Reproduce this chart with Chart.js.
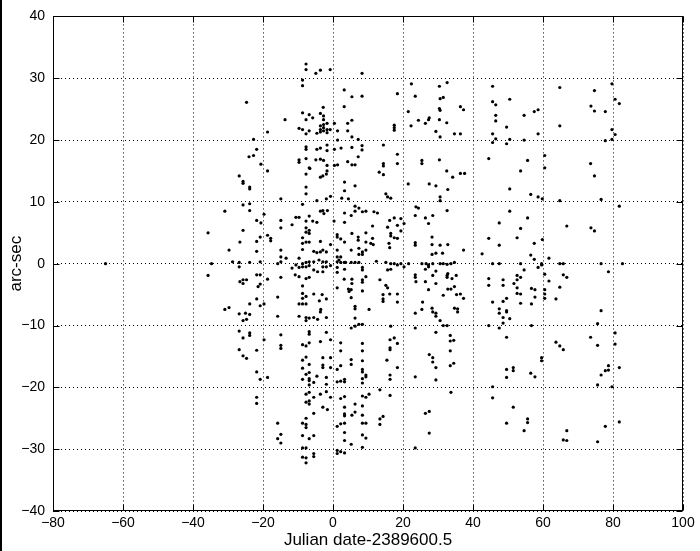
<!DOCTYPE html>
<html>
<head>
<meta charset="utf-8">
<script src="https://cdn.jsdelivr.net/npm/chart.js@4"></script>
<style>
html,body{margin:0;padding:0;background:#fff;}
#c{display:block;}
</style>
</head>
<body>
<canvas id="c" width="700" height="551"></canvas>
<script>
// ---- Data (Julian date offset, arc-sec) ----
const xTitle = "Julian date-2389600.5";
const yTitle = "arc-sec";
const xTicks = [-80, -60, -40, -20, 0, 20, 40, 60, 80, 100];
const yTicks = [-40, -30, -20, -10, 0, 10, 20, 30, 40];

const ptsTopCentre = [[-7.7,32.3],[-7.7,31.4],[-4.9,30.8],[-3.6,31.3],[-0.8,31.4],[8.3,30.8],[-8.7,29.7],[-8.7,28.8],[3.2,28.1],[5.4,27.0],[8.3,27.1],[-24.7,26.1],[3.2,25.4],[-2.8,25.3],[-13.7,23.3],[-8.7,24.4],[-6.8,24.1],[-5.8,23.6],[-7.7,23.3],[-3.6,24.3],[-2.7,23.9],[-2.7,23.3],[0.4,22.7],[5.4,23.2],[4.2,22.7],[-9.7,21.9],[-8.7,21.7],[-7.7,21.0],[-6.8,21.5],[-4.6,21.1],[-3.6,22.3],[-3.6,21.7],[-3.6,21.3],[-2.7,22.5],[-2.7,22.0],[-2.7,21.5],[-1.7,22.7],[-1.7,21.7],[-1.7,21.2],[-0.8,21.7],[1.3,21.5],[4.2,21.5],[5.4,20.5],[7.2,20.1],[-22.7,20.1],[-18.7,21.3],[-21.8,18.5],[-24.0,17.3],[-22.7,17.5],[-20.6,16.1],[-18.7,15.0],[-7.7,18.9],[-7.7,18.5],[-9.7,16.8],[-9.7,16.4],[-7.7,17.0],[-6.8,15.5],[-4.6,18.5],[-3.6,18.7],[-4.9,16.8],[-3.6,16.9],[-2.7,16.7],[-1.7,19.2],[-1.7,18.3],[-1.7,15.9],[-1.7,15.0],[0.4,18.5],[1.3,20.0],[0.4,15.9],[1.3,16.0],[2.3,18.7],[5.4,18.8],[8.3,19.1],[8.3,18.4],[7.2,17.3],[4.2,16.5],[5.4,16.0],[6.3,16.0]];

const ptsLeftMiddle = [[-65.0,0.0],[-6.6,15.4],[-7.7,14.5],[-3.6,14.0],[-26.8,14.2],[-25.7,13.3],[-25.7,13.0],[-23.8,12.4],[-23.8,12.1],[-7.7,12.4],[-7.7,11.3],[-14.9,10.5],[-4.6,10.2],[-25.7,9.5],[-23.8,9.7],[-8.7,9.6],[-30.9,8.5],[-23.8,8.6],[-19.7,8.0],[-10.6,7.5],[-9.7,7.5],[-6.8,7.7],[-3.6,8.5],[-21.8,7.0],[-20.6,6.6],[-14.9,7.0],[-11.7,6.3],[-7.7,6.9],[-5.8,6.9],[-4.6,6.7],[-14.9,5.8],[-7.7,5.8],[-7.7,5.1],[-6.8,5.4],[-6.8,4.9],[-25.7,5.4],[-35.7,5.0],[-18.7,4.6],[-17.8,4.1],[-17.8,3.7],[-20.8,4.3],[-21.8,3.6],[-8.7,4.2],[-8.7,3.3],[-7.7,3.5],[-6.8,3.5],[-3.6,3.6],[-26.6,3.5],[-29.7,2.2],[-21.8,2.0],[-14.9,2.2],[-8.7,2.3],[-5.5,2.0],[-4.6,1.8],[-3.6,1.9],[-14.9,1.1],[-13.4,0.9],[-9.7,0.9],[-34.7,0.0],[-28.7,0.3],[-26.8,0.2],[-23.8,0.2],[-20.8,0.3],[-15.8,0.0],[-14.9,0.3],[-11.7,-0.7],[-10.6,-0.2],[-9.7,-0.6],[-8.7,0.0],[-8.7,-0.5],[-7.7,0.2],[-7.7,-0.5],[-6.8,0.3],[-6.8,-0.3],[-5.5,0.3],[-5.5,-1.0],[-4.4,-1.3],[-35.7,-1.9],[-26.8,-0.5],[-25.7,-2.6],[-25.7,-3.2],[-26.6,-2.9],[-24.7,-2.6],[-21.8,-1.8],[-20.8,-1.8],[-21.4,-3.7],[-20.8,-3.3],[-18.7,-2.5],[-14.9,-2.2],[-10.8,-1.8],[-9.7,-2.1],[-7.7,-2.4],[-6.8,-2.2],[-8.7,-3.6],[-15.8,-5.4],[-21.8,-5.7],[-20.8,-6.8],[-19.7,-6.5],[-30.9,-7.4],[-29.7,-7.1],[-23.8,-6.5],[-8.7,-4.8],[-8.7,-5.6],[-7.7,-5.3],[-5.5,-4.9],[-9.7,-6.5],[-8.7,-6.5],[-7.7,-6.5],[-3.9,-6.0],[-26.8,-8.1],[-25.0,-8.0],[-23.8,-8.2],[-25.7,-9.2],[-24.7,-9.0],[-15.8,-8.5],[-9.7,-8.5],[-7.7,-8.7],[-6.8,-8.8],[-5.5,-8.7],[-4.4,-9.0],[-7.7,-9.2],[-3.6,-7.8],[-26.8,-10.9],[-23.8,-11.2],[-23.8,-11.6],[-19.7,-12.3],[-14.9,-11.5],[-6.8,-11.0],[-6.8,-11.4]];

const ptsLeftLower = [[-25.7,-12.0],[-14.9,-13.2],[-14.9,-13.7],[-8.7,-13.1],[-7.7,-13.3],[-6.8,-12.8],[-3.6,-12.6],[-26.8,-13.9],[-25.7,-14.9],[-24.7,-15.3],[-21.8,-14.0],[-8.7,-15.6],[-7.7,-15.1],[-6.8,-16.3],[-8.7,-16.9],[-21.8,-17.5],[-20.8,-18.7],[-18.7,-18.4],[-6.8,-17.6],[-7.7,-17.9],[-4.6,-18.2],[-6.8,-18.6],[-6.8,-18.9],[-8.7,-18.7],[-5.5,-19.2],[-6.8,-19.6],[-7.7,-21.1],[-6.8,-20.8],[-3.6,-21.1],[-6.8,-22.2],[-7.7,-22.4],[-6.8,-22.7],[-5.5,-21.6],[-21.8,-21.6],[-21.8,-22.6],[-5.5,-24.2],[-7.7,-25.0],[-15.8,-25.8],[-8.7,-25.8],[-7.7,-26.0],[-7.7,-26.5],[-14.9,-27.6],[-15.8,-28.3],[-14.9,-29.0],[-8.7,-27.8],[-6.8,-28.3],[-5.5,-27.8],[-8.7,-29.8],[-7.7,-29.8],[-8.7,-31.3],[-7.7,-31.4],[-5.5,-30.7],[-5.5,-31.2],[-7.7,-32.2]];

const ptsCentreUpper = [[14.4,19.2],[18.4,27.5],[17.5,22.4],[17.5,22.0],[17.5,21.6],[18.4,17.7],[18.4,16.2],[14.4,16.2],[14.4,15.8],[13.2,14.8],[14.4,14.4],[22.4,29.1],[23.5,27.1],[30.4,28.7],[32.6,29.3],[30.6,26.7],[31.5,26.9],[30.4,25.1],[30.6,24.8],[21.5,24.6],[24.4,23.2],[27.5,23.6],[27.3,23.3],[26.4,22.7],[22.3,22.3],[30.4,23.3],[32.5,22.8],[29.4,21.4],[30.6,20.5],[34.7,21.0],[25.4,16.7],[25.4,16.2],[30.4,16.8],[32.5,15.0],[34.2,14.0],[21.5,12.9],[27.5,12.9],[29.4,12.6],[-1.9,14.5],[-2.9,14.2],[3.3,13.2],[6.3,12.6]];

const ptsCentreMiddle = [[-0.7,10.9],[-1.9,10.5],[2.5,10.6],[4.4,10.5],[3.3,11.8],[15.1,11.3],[15.6,10.8],[16.5,10.6],[-2.9,8.6],[-2.6,8.1],[-1.6,8.6],[0.3,6.9],[3.3,8.2],[5.2,7.8],[6.3,8.5],[6.3,9.3],[7.4,9.0],[8.4,8.4],[9.4,8.5],[11.7,8.4],[12.7,8.2],[3.3,6.7],[16.2,7.0],[17.5,7.4],[19.4,7.3],[20.3,6.5],[11.3,6.1],[15.6,5.9],[18.4,6.2],[9.4,5.0],[5.4,4.9],[16.5,4.9],[16.5,4.5],[17.5,4.2],[18.4,4.1],[19.4,5.3],[1.2,4.7],[1.2,4.3],[2.2,4.0],[3.3,3.5],[7.2,4.3],[7.2,3.8],[9.4,3.5],[11.3,4.1],[11.5,3.1],[-0.7,3.1],[-1.9,1.9],[-2.9,2.2],[1.2,2.2],[5.2,2.2],[7.4,2.5],[8.4,1.9],[8.4,1.5],[9.4,2.2],[7.4,1.5],[16.0,3.3],[16.2,2.6],[10.8,3.3],[1.2,1.1],[2.2,1.1],[1.2,0.3],[2.2,0.2],[1.7,0.6],[3.2,0.2],[3.6,0.2],[5.2,0.2],[6.3,0.2],[7.4,0.2],[12.4,0.4],[15.1,0.2],[16.5,0.0],[17.5,0.0],[18.4,-0.2],[19.4,0.0],[20.3,-0.5],[21.6,0.0],[-2.9,0.3],[-1.9,0.3],[-2.9,-0.5],[-1.9,-0.5],[-4.0,0.6],[-0.7,-0.3],[1.2,-0.6],[1.2,-1.4],[3.3,-0.9],[8.4,-0.6],[8.4,-1.0],[15.6,-1.0],[16.5,-0.9],[-2.9,-1.3],[3.2,-2.5],[5.4,-2.5],[5.4,-3.2],[8.4,-2.6],[8.4,-3.0],[9.4,-2.1],[13.4,-2.6],[15.1,-3.5],[15.6,-3.9],[1.2,-3.9],[4.4,-4.1],[5.2,-4.2],[4.6,-4.5],[8.4,-4.4],[16.2,-4.9],[18.4,-4.9],[14.3,-5.0],[14.3,-5.7],[14.3,-6.1],[18.4,-6.2],[5.2,-5.5],[-3.1,-5.0],[-1.9,-5.7],[6.3,-6.9],[6.3,-7.3],[10.3,-7.4],[-3.5,-7.4],[-1.9,-8.7],[6.3,-8.8],[5.2,-10.4],[6.3,-10.1],[7.4,-9.8],[8.4,-9.8],[16.5,-10.1]];

const ptsRightOfCentre = [[23.7,9.2],[24.4,9.0],[23.5,7.8],[26.4,7.4],[27.3,6.5],[28.5,7.8],[30.6,10.8],[30.6,10.2],[32.6,8.6],[32.8,12.0],[28.3,4.3],[28.3,3.1],[30.6,3.0],[32.8,3.1],[23.5,3.4],[23.5,3.0],[28.3,1.5],[29.4,1.7],[31.3,1.7],[25.4,0.0],[26.6,0.0],[28.5,0.0],[27.3,-0.2],[30.6,0.0],[31.5,0.0],[32.6,-0.1],[33.7,0.0],[34.7,0.2],[26.4,-0.9],[27.3,-0.5],[29.4,-1.2],[32.8,-1.6],[23.5,-1.8],[23.5,-2.2],[28.5,-1.9],[32.6,-1.9],[32.6,-2.2],[34.0,-2.4],[35.2,-1.9],[23.7,-2.9],[26.4,-2.9],[29.4,-3.2],[27.3,-4.2],[32.8,-4.1],[33.7,-4.1],[34.7,-3.7],[31.5,-5.1],[35.3,-5.0],[25.6,-6.2],[23.5,-8.0],[25.4,-7.4],[28.3,-7.2],[29.4,-8.0],[29.4,-8.5],[28.5,-7.8],[30.6,-9.2],[31.5,-10.0],[32.6,-10.0],[34.7,-7.2],[35.6,-7.3],[35.6,-7.8],[23.5,-10.4]];

const ptsCentreLower = [[-1.9,-11.1],[-0.7,-12.3],[2.2,-12.8],[2.2,-14.1],[8.4,-12.9],[8.4,-14.1],[5.2,-15.5],[5.2,-16.3],[8.4,-15.7],[-2.9,-15.2],[-0.7,-15.2],[-2.9,-16.4],[-2.9,-16.8],[-0.7,-16.8],[1.2,-17.1],[2.2,-16.5],[8.4,-17.1],[8.4,-17.5],[9.4,-18.0],[9.4,-18.3],[8.4,-18.6],[-1.9,-18.4],[-1.9,-19.5],[1.2,-19.1],[2.2,-19.0],[3.3,-18.7],[3.3,-19.1],[8.4,-19.3],[16.3,-18.7],[16.3,-18.0],[15.4,-15.6],[18.4,-16.8],[16.3,-12.3],[17.5,-12.0],[18.4,-12.9],[16.3,-13.6],[16.3,-13.9],[-1.9,-20.7],[-0.7,-21.6],[-2.9,-23.2],[-1.6,-23.6],[2.2,-21.8],[3.3,-21.5],[8.4,-21.4],[9.4,-21.6],[10.3,-21.1],[13.4,-20.4],[16.3,-21.3],[3.3,-23.2],[6.3,-22.7],[8.4,-23.0],[3.3,-24.3],[3.3,-24.6],[5.4,-24.5],[6.3,-24.0],[8.4,-24.5],[14.3,-24.7],[13.4,-25.1],[8.4,-25.8],[9.4,-25.8],[2.2,-25.9],[1.2,-26.3],[3.3,-25.8],[13.4,-26.0],[3.3,-27.3],[8.4,-27.7],[9.4,-28.2],[3.3,-28.6],[5.2,-29.2],[8.4,-29.7],[1.2,-30.2],[1.2,-30.7],[2.2,-30.4],[3.3,-30.6],[29.4,-11.1],[33.5,-11.6],[34.5,-12.4],[33.5,-12.5],[33.5,-14.1],[27.5,-14.7],[28.5,-15.2],[28.5,-15.9],[29.4,-16.8],[33.5,-16.5],[34.5,-16.1],[23.5,-18.3],[29.4,-18.8],[33.7,-20.8],[26.4,-24.2],[27.5,-23.9],[27.5,-27.4],[23.5,-29.8]];

const ptsRightUpper = [[36.4,25.4],[37.3,24.9],[36.4,21.0],[45.6,28.7],[45.6,26.2],[46.5,25.7],[50.5,26.6],[46.5,24.0],[46.5,23.1],[49.6,22.1],[45.6,21.0],[46.5,20.2],[45.6,19.6],[49.6,19.4],[50.5,20.1],[54.6,24.0],[54.6,20.0],[57.5,24.6],[58.6,24.9],[58.6,21.0],[64.8,28.5],[64.8,22.3],[74.7,28.0],[73.7,25.5],[74.7,24.7],[77.8,24.6],[79.7,29.1],[80.6,26.6],[81.8,25.9],[79.7,21.7],[80.6,20.9],[77.8,19.9],[79.7,20.1],[44.5,17.0],[36.4,14.6],[37.6,14.6],[55.6,16.7],[53.6,15.0],[60.5,17.5],[60.5,15.5],[50.5,12.1],[56.5,11.2],[58.6,10.8],[59.8,10.5],[73.6,16.2],[74.7,14.2],[76.6,10.4],[64.8,10.2],[81.8,9.3],[50.5,8.5],[47.5,6.6],[55.6,7.4],[53.6,5.7],[52.6,4.2],[44.5,4.1],[47.5,3.0],[57.5,3.3],[59.8,3.9],[37.3,2.2],[42.6,1.6],[56.5,1.4],[57.5,0.7],[61.7,0.9],[66.8,6.1],[73.7,5.8],[74.7,5.3]];

const ptsRightLower = [[45.6,0.0],[47.5,0.0],[53.6,0.0],[59.6,0.0],[59.6,-0.2],[64.8,0.0],[65.8,0.0],[76.6,0.0],[82.7,0.0],[54.6,-1.0],[58.6,-0.6],[78.7,-1.3],[44.5,-2.4],[44.5,-3.5],[48.6,-2.6],[48.6,-3.5],[52.6,-1.9],[53.6,-2.2],[52.6,-2.6],[51.7,-3.2],[52.6,-3.9],[52.6,-4.8],[53.6,-4.9],[56.7,-4.0],[57.7,-4.2],[57.7,-5.4],[49.6,-5.6],[48.6,-6.1],[45.6,-6.2],[53.6,-6.4],[56.7,-6.5],[60.5,-1.7],[61.7,-2.8],[60.5,-4.2],[60.5,-4.9],[60.5,-5.6],[63.7,-5.7],[64.8,-3.8],[65.8,-1.8],[66.8,-2.2],[36.4,-4.9],[37.3,-5.6],[47.5,-7.3],[47.5,-8.0],[49.6,-7.6],[49.6,-7.8],[48.6,-8.7],[50.5,-8.9],[48.6,-9.6],[47.5,-10.4],[44.5,-10.0],[56.7,-10.0],[49.6,-11.9],[76.6,-7.6],[75.6,-9.7],[80.6,-11.2],[73.6,-11.9],[75.6,-13.2],[80.6,-13.0],[63.7,-12.7],[64.8,-13.3],[65.8,-13.9],[59.6,-15.2],[59.6,-15.7],[49.6,-17.1],[51.5,-16.8],[51.5,-17.3],[49.6,-18.4],[56.5,-17.7],[57.7,-18.3],[78.7,-16.5],[77.8,-17.3],[76.6,-18.0],[78.7,-17.2],[81.8,-16.8],[75.6,-19.6],[79.7,-19.9],[45.6,-19.9],[45.6,-21.7],[51.5,-23.2],[55.6,-25.1],[55.6,-25.7],[49.6,-25.8],[54.6,-27.0],[66.8,-27.0],[65.8,-28.5],[66.8,-28.6],[77.8,-26.3],[81.8,-25.6],[75.6,-28.8]];

const allPoints = [].concat(ptsTopCentre, ptsLeftMiddle, ptsLeftLower, ptsCentreUpper,
  ptsCentreMiddle, ptsRightOfCentre, ptsCentreLower, ptsRightUpper, ptsRightLower)
  .map(([x, y]) => ({x, y}));

Chart.defaults.font.family = "'Liberation Sans', Arial, Helvetica, sans-serif";
Chart.defaults.color = '#000';

const minusLabel = v => String(v).replace('-', '\u2212');

// MATLAB-style frame with inward ticks, drawn from the library's scales
const framePlugin = {
  id: 'frame',
  afterDraw(chart) {
    const {ctx, chartArea: a, scales} = chart;
    const L = Math.round(a.left) + 0.5, R = Math.round(a.right) - 0.5;
    const T = Math.round(a.top) + 0.5, B = Math.round(a.bottom) - 0.5;
    ctx.save();
    ctx.strokeStyle = '#000';
    ctx.lineWidth = 1;
    ctx.setLineDash([]);
    ctx.strokeRect(L, T, R - L, B - T);
    const len = 6;
    ctx.beginPath();
    xTicks.forEach(v => {
      const px = Math.round(scales.x.getPixelForValue(v)) + 0.5;
      ctx.moveTo(px, B); ctx.lineTo(px, B - len);
      ctx.moveTo(px, T); ctx.lineTo(px, T + len);
    });
    yTicks.forEach(v => {
      const py = Math.round(scales.y.getPixelForValue(v)) + 0.5;
      ctx.moveTo(L, py); ctx.lineTo(L + len, py);
      ctx.moveTo(R, py); ctx.lineTo(R - len, py);
    });
    ctx.stroke();
    ctx.fillStyle = '#000';
    ctx.fillRect(0, 0, 2, chart.height);
    ctx.restore();
  }
};

new Chart(document.getElementById('c'), {
  type: 'scatter',
  data: {
    datasets: [{
      data: allPoints,
      backgroundColor: '#000',
      borderColor: '#000',
      borderWidth: 0,
      pointRadius: 1.6,
      pointHoverRadius: 1.6,
      pointStyle: 'circle'
    }]
  },
  options: {
    responsive: false,
    animation: false,
    devicePixelRatio: 1,
    events: [],
    layout: { padding: { top: 13, right: 17, left: 0, bottom: 0 } },
    plugins: { legend: { display: false }, tooltip: { enabled: false } },
    scales: {
      x: {
        type: 'linear',
        min: -80, max: 100,
        afterBuildTicks(s) { s.ticks = xTicks.map(v => ({value: v})); },
        ticks: { color: '#000', font: { size: 14 }, padding: 4, maxRotation: 0, autoSkip: false, callback: minusLabel },
        grid: { color: '#000', lineWidth: 1, drawTicks: false },
        border: { display: false, dash: [1, 3] },
        title: { display: true, text: xTitle, color: '#000', font: { size: 17 }, padding: { top: 0, bottom: 0 } },
        afterFit(s) { s.height = 40; }
      },
      y: {
        type: 'linear',
        min: -40, max: 40,
        afterBuildTicks(s) { s.ticks = yTicks.map(v => ({value: v})); },
        ticks: { color: '#000', font: { size: 14 }, padding: 8, autoSkip: false, callback: minusLabel },
        grid: { color: '#000', lineWidth: 1, drawTicks: false },
        border: { display: false, dash: [1, 3] },
        title: { display: true, text: yTitle, color: '#000', font: { size: 17 }, padding: { top: 6, bottom: 0 } },
        afterFit(s) { s.width = 53; }
      }
    }
  },
  plugins: [framePlugin]
});
</script>
</body>
</html>
